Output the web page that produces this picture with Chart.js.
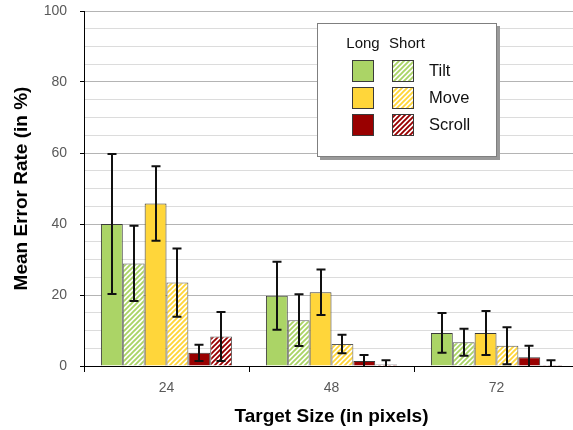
<!DOCTYPE html>
<html><head><meta charset="utf-8">
<script src="https://cdn.jsdelivr.net/npm/chart.js@4"></script>
<style>
html,body{margin:0;padding:0;overflow:hidden;background:#fff;width:573px;height:430px}
#wrap{position:relative;width:590px;height:430px}
</style>
</head><body><div id="wrap"><canvas id="c" width="590" height="430"></canvas></div>
<script>
// ---- data ----
const categories = ['24', '48', '72'];
const methods = ['Tilt', 'Move', 'Scroll'];
const variants = ['Long', 'Short'];
const tiltLong = [40.0, 19.8, 9.3];
const tiltLongErr = [19.7, 9.6, 5.6];
const tiltShort = [28.9, 12.9, 6.7];
const tiltShortErr = [10.6, 7.3, 3.8];
const moveLong = [45.8, 20.8, 9.3];
const moveLongErr = [10.5, 6.4, 6.2];
const moveShort = [23.5, 6.2, 5.7];
const moveShortErr = [9.6, 2.6, 5.2];
const scrollLong = [3.7, 1.4, 2.5];
const scrollLongErr = [2.3, 1.7, 3.2];
const scrollShort = [8.3, 0.4, 0.3];
const scrollShortErr = [6.9, 1.2, 1.3];
const yMin = 0, yMax = 100, yStep = 5, yLabelStep = 20;
const xTitle = 'Target Size (in pixels)';
const yTitle = 'Mean Error Rate (in %)';

const colors = ['#ABD466', '#FFD63A', '#990000'];
const FONT = "'Liberation Sans', Arial, sans-serif";

function hatch(color) {
  const s = 5;
  const c = document.createElement('canvas');
  c.width = s; c.height = s;
  const g = c.getContext('2d');
  g.fillStyle = '#fff'; g.fillRect(0, 0, s, s);
  g.strokeStyle = color; g.lineWidth = 1.9; g.lineCap = 'square';
  g.beginPath();
  g.moveTo(-s, s); g.lineTo(s, -s);
  g.moveTo(0, s); g.lineTo(s, 0);
  g.moveTo(0, 2 * s); g.lineTo(2 * s, 0);
  g.stroke();
  return document.getElementById('c').getContext('2d').createPattern(c, 'repeat');
}

const seriesValues = {
  Tilt: { Long: [tiltLong, tiltLongErr], Short: [tiltShort, tiltShortErr] },
  Move: { Long: [moveLong, moveLongErr], Short: [moveShort, moveShortErr] },
  Scroll: { Long: [scrollLong, scrollLongErr], Short: [scrollShort, scrollShortErr] }
};

const fills = {};
const datasets = [];
methods.forEach((m, mi) => {
  fills[m] = { Long: colors[mi], Short: hatch(colors[mi]) };
  variants.forEach(v => {
    datasets.push({
      label: m + ' ' + v,
      data: seriesValues[m][v][0],
      errors: seriesValues[m][v][1],
      backgroundColor: fills[m][v],
      borderColor: v === 'Long' ? '#3a3a3a' : '#5a5a5a',
      borderWidth: 1,
      borderSkipped: 'bottom',
      categoryPercentage: 0.795,
      barPercentage: 1.0
    });
  });
});

const errorBars = {
  id: 'errorBars',
  afterDatasetsDraw(chart) {
    const ctx = chart.ctx, y = chart.scales.y, a = chart.chartArea;
    ctx.save();
    ctx.beginPath();
    ctx.rect(a.left, 0, a.right - a.left, a.bottom);
    ctx.clip();
    ctx.strokeStyle = '#111';
    ctx.lineWidth = 2;
    chart.data.datasets.forEach((ds, i) => {
      const meta = chart.getDatasetMeta(i);
      meta.data.forEach((bar, j) => {
        const v = ds.data[j], e = ds.errors[j];
        const yt = y.getPixelForValue(v + e);
        const yb = y.getPixelForValue(v - e);
        const x = Math.round(bar.x);
        ctx.beginPath();
        ctx.moveTo(x, yt); ctx.lineTo(x, yb);
        ctx.moveTo(x - 4.5, yt); ctx.lineTo(x + 4.5, yt);
        ctx.moveTo(x - 4.5, yb); ctx.lineTo(x + 4.5, yb);
        ctx.stroke();
      });
    });
    ctx.restore();
  }
};

const boxLegend = {
  id: 'boxLegend',
  afterDraw(chart) {
    const ctx = chart.ctx;
    const bx = 317, by = 23, bw = 180, bh = 134;
    ctx.save();
    ctx.fillStyle = '#9a9a9a';
    ctx.fillRect(bx + 3, by + 3, bw, bh);
    ctx.fillStyle = '#fff';
    ctx.fillRect(bx, by, bw, bh);
    ctx.strokeStyle = '#7f7f7f';
    ctx.lineWidth = 1;
    ctx.strokeRect(bx + 0.5, by + 0.5, bw - 1, bh - 1);
    const colX = [352, 392];
    ctx.fillStyle = '#111';
    ctx.font = '15px ' + FONT;
    ctx.textAlign = 'center';
    ctx.textBaseline = 'alphabetic';
    variants.forEach((v, vi) => ctx.fillText(v, colX[vi] + 11 + (vi ? 4 : 0), 47.5));
    ctx.textAlign = 'left';
    ctx.font = '16.5px ' + FONT;
    methods.forEach((m, mi) => {
      const ry = 60 + mi * 27;
      variants.forEach((v, vi) => {
        ctx.fillStyle = fills[m][v];
        ctx.fillRect(colX[vi], ry, 22, 22);
        ctx.strokeStyle = '#3a3a3a';
        ctx.strokeRect(colX[vi] + 0.5, ry + 0.5, 21, 21);
      });
      ctx.fillStyle = '#111';
      ctx.fillText(m, 429, ry + 16);
    });
    ctx.restore();
  }
};

new Chart(document.getElementById('c'), {
  type: 'bar',
  data: { labels: categories, datasets },
  plugins: [errorBars, boxLegend],
  options: {
    responsive: false,
    animation: false,
    layout: { padding: { top: 11, right: 11, left: 0, bottom: 0 } },
    plugins: { legend: { display: false }, tooltip: { enabled: false } },
    scales: {
      x: {
        offset: true,
        grid: { offset: true, drawOnChartArea: false, drawTicks: true, tickLength: 6, color: '#000', lineWidth: 1 },
        border: { color: '#000', width: 1 },
        ticks: { color: '#595959', font: { family: FONT, size: 14 }, padding: 8 },
        title: { display: true, text: xTitle, color: '#000', font: { family: FONT, size: 19, weight: 'bold' }, padding: { top: 0, bottom: 1.6 } },
        afterFit(s) { s.height = 64; s.paddingLeft = 0; s.paddingRight = 0; }
      },
      y: {
        min: yMin, max: yMax,
        ticks: {
          stepSize: yStep,
          color: '#595959', font: { family: FONT, size: 14 }, padding: 13,
          autoSkip: false,
          callback: v => (v % yLabelStep === 0 ? String(v) : '')
        },
        grid: {
          color: c => (c.tick && c.tick.value % yLabelStep === 0 ? '#b4b4b4' : '#dcdcdc'),
          tickColor: c => (c.tick && c.tick.value % yLabelStep === 0 ? '#000' : 'rgba(0,0,0,0)'),
          tickLength: 4,
          lineWidth: 1
        },
        border: { color: '#000', width: 1 },
        title: { display: true, text: yTitle, color: '#000', font: { family: FONT, size: 19, weight: 'bold' }, padding: { top: 10.6, bottom: 0 } },
        afterFit(s) { s.width = 84; s.paddingTop = 0; s.paddingBottom = 0; }
      }
    }
  }
});
</script>
</body></html>
